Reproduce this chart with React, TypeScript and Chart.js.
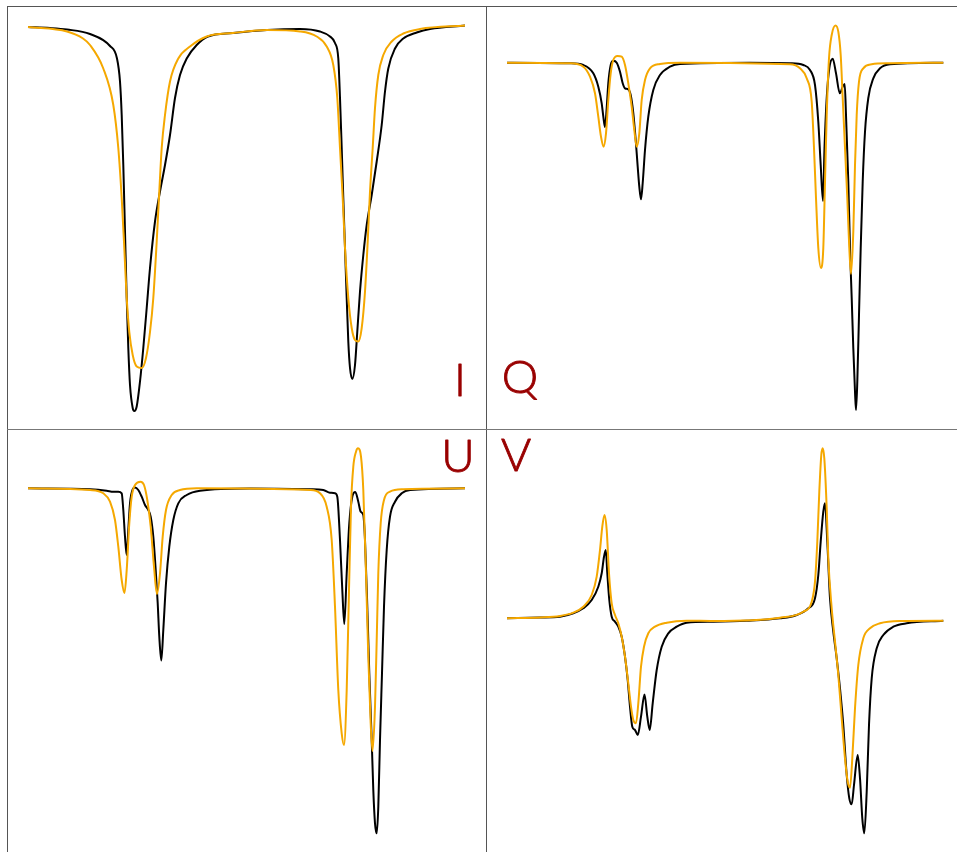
import { useEffect, useRef } from "react";
import { Chart, registerables } from "chart.js";

Chart.register(...registerables);

// Wavelength axis: spectral samples counted from the first sample of each profile.
// Stokes I is normalised to the continuum; Q, U and V are in percent of the continuum.

// ---- Stokes I ----
const iObsWl = [0, 22, 39, 62, 82, 89, 92, 93.7, 95.3, 97, 98.7, 100.3, 102, 104.7, 106.3, 108.7, 112, 115.3, 118.7, 122, 127, 132, 137, 142, 147, 152, 158.7, 168.7, 180, 205, 239, 272, 292, 302, 307, 310.3, 312, 313.7, 315.3, 317, 318.7, 320.3, 322, 324.3, 327, 329.3, 332, 335.3, 338.7, 343.7, 348.7, 353.7, 357, 360.3, 367, 375.3, 388.7, 402, 437];
const iObs = [1.0, 0.998, 0.995, 0.986, 0.962, 0.937, 0.891, 0.824, 0.724, 0.591, 0.458, 0.358, 0.284, 0.238, 0.232, 0.241, 0.291, 0.358, 0.438, 0.518, 0.611, 0.671, 0.724, 0.784, 0.858, 0.904, 0.937, 0.964, 0.981, 0.988, 0.994, 0.996, 0.991, 0.981, 0.968, 0.937, 0.858, 0.758, 0.658, 0.558, 0.458, 0.371, 0.318, 0.296, 0.324, 0.391, 0.471, 0.544, 0.604, 0.664, 0.731, 0.804, 0.871, 0.917, 0.957, 0.977, 0.989, 0.996, 1.003];
const iSynWl = [0, 39, 55, 62, 75.3, 85.3, 90.3, 93.7, 96.3, 98.7, 101.3, 104.7, 108.7, 113.7, 118, 122, 125.3, 128.7, 131.3, 133.7, 137, 142, 150.3, 162, 178.7, 205, 239, 272, 288.7, 298.7, 305.3, 309.3, 312, 314.7, 317, 320.3, 323.7, 327, 330.3, 333.7, 337, 339.7, 342, 344.7, 347, 350.3, 355.3, 363.7, 375.3, 392, 437];
const iSyn = [1.0, 0.991, 0.977, 0.964, 0.917, 0.844, 0.758, 0.658, 0.558, 0.458, 0.39, 0.344, 0.321, 0.318, 0.338, 0.39, 0.458, 0.571, 0.671, 0.758, 0.824, 0.891, 0.937, 0.961, 0.981, 0.988, 0.994, 0.991, 0.981, 0.961, 0.924, 0.858, 0.758, 0.658, 0.558, 0.458, 0.398, 0.374, 0.371, 0.398, 0.471, 0.571, 0.671, 0.758, 0.838, 0.904, 0.944, 0.971, 0.987, 0.996, 1.003];

// ---- Stokes Q ----
const qObsWl = [0, 63, 76.3, 86.3, 91.3, 94.7, 96.5, 98, 99.7, 101.3, 103.7, 106.3, 109.7, 113, 115.7, 118, 121.3, 123.7, 126.3, 128.7, 130.7, 132.3, 134, 135.7, 138, 141.3, 146.3, 153, 163, 173, 243, 283, 296.3, 303, 308, 311.3, 313.7, 316, 317.5, 319.7, 322.3, 325.7, 329, 332.8, 335.7, 337.7, 339, 341.3, 343, 344.7, 346.3, 348, 349, 350.3, 352, 353.7, 355.7, 358, 361.3, 366.3, 373, 383, 436.3];
const qObs = [0, -0.006, -0.023, -0.106, -0.24, -0.406, -0.553, -0.643, -0.453, -0.206, -0.023, 0.02, 0, -0.09, -0.206, -0.256, -0.266, -0.323, -0.503, -0.773, -1.04, -1.24, -1.366, -1.203, -0.873, -0.54, -0.273, -0.123, -0.04, -0.013, 0, -0.006, -0.023, -0.073, -0.223, -0.59, -1.023, -1.383, -0.853, -0.353, -0.056, 0.039, -0.106, -0.306, -0.24, -0.213, -0.523, -1.19, -1.853, -2.353, -2.853, -3.29, -3.473, -3.19, -2.523, -1.853, -1.19, -0.69, -0.353, -0.156, -0.056, -0.016, 0];
const qSynWl = [0, 63, 76.3, 83, 88, 91.3, 94, 96.5, 99, 101.3, 103.7, 106.3, 110.5, 114.7, 118, 121.3, 124.7, 127.3, 129.7, 132.3, 134.7, 138, 143, 153, 173, 283, 293, 299.7, 304.7, 307, 309, 311.3, 314, 316.3, 318, 319.7, 322, 324.7, 328.5, 331.3, 333.7, 335.7, 338, 340.3, 342.3, 344, 346.3, 348, 349.7, 352, 356.3, 364.7, 383, 436.3];
const qSyn = [0, -0.006, -0.04, -0.14, -0.306, -0.54, -0.74, -0.84, -0.706, -0.373, -0.106, 0.027, 0.067, 0.06, -0.023, -0.206, -0.44, -0.673, -0.84, -0.706, -0.373, -0.173, -0.056, -0.013, 0, -0.016, -0.056, -0.156, -0.39, -0.853, -1.353, -1.853, -2.053, -1.853, -1.19, -0.523, 0.044, 0.277, 0.372, 0.31, 0.077, -0.353, -0.853, -1.353, -1.853, -2.113, -1.69, -1.023, -0.523, -0.19, -0.056, -0.016, -0.006, 0];

// ---- Stokes U ----
const uObsWl = [0, 62, 78.7, 85.3, 90.3, 93.7, 95.3, 97, 98.7, 100.3, 102, 104.7, 107, 110.3, 113.7, 117, 120.3, 122.7, 125.3, 127.7, 129.7, 131.3, 133.3, 135.3, 138, 141.3, 145.3, 150.3, 158.7, 172, 222, 282, 295.3, 302, 307, 309.3, 312, 314.3, 316.3, 318.7, 321.3, 324.3, 327.3, 330.3, 332.7, 335.3, 337, 339.3, 341.3, 343.7, 345.3, 347, 348.7, 350.3, 352, 354, 356, 358.7, 362, 367, 373.7, 382, 437];
const uObs = [0, -0.01, -0.024, -0.034, -0.034, -0.05, -0.217, -0.484, -0.667, -0.417, -0.15, -0.01, 0.008, -0.017, -0.084, -0.167, -0.217, -0.284, -0.484, -0.817, -1.15, -1.484, -1.722, -1.417, -0.95, -0.584, -0.317, -0.15, -0.067, -0.024, -0.002, -0.01, -0.017, -0.044, -0.05, -0.084, -0.517, -1.017, -1.357, -0.85, -0.35, -0.084, -0.037, -0.134, -0.234, -0.267, -0.517, -1.184, -1.85, -2.517, -3.017, -3.35, -3.45, -3.184, -2.517, -1.85, -1.184, -0.617, -0.284, -0.134, -0.05, -0.017, 0];
const uSynWl = [0, 62, 75.3, 82, 87, 90.3, 93.7, 96.5, 98.7, 101.3, 103.7, 107, 112.5, 116, 119.3, 122.7, 126, 129, 132, 134.7, 138, 143.7, 152, 168.7, 282, 292, 298.7, 303.7, 307, 310.3, 313.7, 316, 318.7, 321, 323, 325.3, 328, 330, 333, 335.3, 338, 340.3, 342.7, 344.5, 347, 348.7, 350.3, 352.7, 356, 362, 375.3, 437];
const uSyn = [0, -0.017, -0.05, -0.134, -0.317, -0.584, -0.917, -1.047, -0.817, -0.35, -0.084, 0.033, 0.066, 0.033, -0.117, -0.384, -0.784, -1.057, -0.85, -0.484, -0.217, -0.067, -0.017, 0, -0.017, -0.05, -0.184, -0.517, -1.184, -2.017, -2.45, -2.567, -2.017, -1.017, -0.184, 0.216, 0.366, 0.4, 0.316, -0.017, -0.85, -1.684, -2.35, -2.627, -2.184, -1.517, -0.85, -0.35, -0.117, -0.034, -0.01, 0];

// ---- Stokes V ----
const vObsWl = [0, 33, 53, 66.3, 76.3, 84.7, 91.3, 94.7, 97, 98.8, 100.3, 102.3, 104.7, 108, 111.3, 114.7, 118, 120.7, 123, 125.3, 128, 130.8, 134, 137.5, 140.3, 142.7, 145.7, 149.7, 154.7, 161.3, 169.7, 179.7, 206.3, 239.7, 273, 289.7, 301.3, 308, 311.3, 313.7, 316.3, 318, 320.3, 323, 326.3, 329.7, 333, 336.3, 339.7, 342.3, 344.7, 347, 350.7, 353, 355.3, 357.3, 359.7, 362, 364.7, 369.7, 376.3, 386.3, 399.7, 436.3];
const vObs = [0.01, 0.018, 0.026, 0.06, 0.11, 0.193, 0.326, 0.46, 0.626, 0.693, 0.46, 0.193, 0.026, -0.024, -0.074, -0.174, -0.374, -0.607, -0.874, -1.074, -1.107, -1.157, -0.974, -0.752, -0.974, -1.107, -0.84, -0.507, -0.274, -0.14, -0.074, -0.034, -0.024, -0.014, 0.01, 0.043, 0.11, 0.21, 0.443, 0.776, 1.076, 1.16, 0.776, 0.21, -0.124, -0.39, -0.69, -1.057, -1.557, -1.79, -1.85, -1.657, -1.357, -1.59, -1.99, -2.14, -1.724, -1.057, -0.59, -0.29, -0.157, -0.074, -0.04, -0.014];
const vSynWl = [0, 33, 53, 66.3, 76.3, 84.7, 89.7, 93, 95.3, 97.5, 99.7, 102, 104.7, 108, 111.3, 114.7, 118, 121.3, 124, 126.3, 129, 131.3, 134, 137, 141.3, 148, 159.7, 179.7, 206.3, 273, 296.3, 304.7, 308, 310.3, 312.3, 314.3, 315.7, 317.3, 319.7, 321.3, 324.7, 328, 331.3, 334.7, 338, 340.7, 343, 345.3, 348, 351.3, 356.3, 363, 373, 393, 436.3];
const vSyn = [0.01, 0.018, 0.033, 0.066, 0.126, 0.243, 0.426, 0.693, 0.926, 1.043, 0.893, 0.46, 0.16, 0.043, -0.04, -0.174, -0.374, -0.64, -0.874, -1.007, -1.04, -0.84, -0.474, -0.274, -0.14, -0.074, -0.034, -0.014, -0.017, 0.016, 0.076, 0.176, 0.376, 0.776, 1.276, 1.643, 1.71, 1.61, 1.11, 0.61, 0.11, -0.224, -0.557, -0.99, -1.39, -1.624, -1.684, -1.39, -0.89, -0.457, -0.19, -0.09, -0.04, -0.017, -0.014];

const OBS_COLOR = "#000000";
const SYN_COLOR = "#F5A800";
const LABEL_COLOR = "#990000";

type PanelProps = {
  label: string;
  obsWl: number[];
  obs: number[];
  synWl: number[];
  syn: number[];
  yMin: number;
  yMax: number;
  labelX: number;
  labelY: number;
  left: number;
  top: number;
};

const PANEL_W = 479;
const PANEL_H = 423;

function StokesPanel(p: PanelProps) {
  const ref = useRef<HTMLCanvasElement>(null);

  useEffect(() => {
    const canvas = ref.current;
    if (!canvas) return;
    // Stokes parameter name, drawn in a light face with a thin outline for a medium stroke
    const labelPlugin = {
      id: "stokesLabel",
      afterDraw(chart: Chart) {
        const ctx = chart.ctx;
        ctx.save();
        ctx.font = "300 46px Lato";
        ctx.fillStyle = LABEL_COLOR;
        ctx.strokeStyle = LABEL_COLOR;
        ctx.lineWidth = 0.9;
        ctx.lineJoin = "round";
        ctx.textAlign = "center";
        ctx.textBaseline = "alphabetic";
        ctx.fillText(p.label, p.labelX, p.labelY);
        ctx.strokeText(p.label, p.labelX, p.labelY);
        ctx.restore();
      },
    };
    const toPoints = (xs: number[], ys: number[]) => xs.map((x, i) => ({ x, y: ys[i] }));
    const chart = new Chart(canvas, {
      type: "line",
      data: {
        datasets: [
          {
            label: "synthetic",
            data: toPoints(p.synWl, p.syn),
            borderColor: SYN_COLOR,
            borderWidth: 2,
            pointRadius: 0,
            cubicInterpolationMode: "monotone",
            fill: false,
          },
          {
            label: "observed",
            data: toPoints(p.obsWl, p.obs),
            borderColor: OBS_COLOR,
            borderWidth: 2,
            pointRadius: 0,
            cubicInterpolationMode: "monotone",
            fill: false,
          },
        ],
      },
      options: {
        animation: false,
        responsive: false,
        events: [],
        layout: { padding: 0 },
        plugins: { legend: { display: false }, tooltip: { enabled: false } },
        scales: {
          x: { type: "linear", display: false, min: -21, max: 458 },
          y: { type: "linear", display: false, min: p.yMin, max: p.yMax },
        },
      },
      plugins: [labelPlugin],
    });
    return () => chart.destroy();
  }, []);

  return (
    <div style={{ position: "absolute", left: p.left, top: p.top, width: PANEL_W, height: PANEL_H }}>
      <canvas ref={ref} width={PANEL_W} height={PANEL_H} style={{ display: "block" }} />
    </div>
  );
}

const LINE = "#555555";

export default function App() {
  return (
    <div style={{ position: "fixed", left: 0, top: 0, width: 957, height: 852, background: "#fff", overflow: "hidden" }}>
      <StokesPanel label="I" obsWl={iObsWl} obs={iObs} synWl={iSynWl} syn={iSyn} yMin={0.196} yMax={1.042} labelX={453} labelY={390} left={7} top={6} />
      <StokesPanel label="Q" obsWl={qObsWl} obs={qObs} synWl={qSynWl} syn={qSyn} yMin={-3.663} yMax={0.567} labelX={34} labelY={387} left={486} top={6} />
      <StokesPanel label="U" obsWl={uObsWl} obs={uObs} synWl={uSynWl} syn={uSyn} yMin={-3.637} yMax={0.593} labelX={451} labelY={43} left={7} top={429} />
      <StokesPanel label="V" obsWl={vObsWl} obs={vObs} synWl={vSynWl} syn={vSyn} yMin={-2.327} yMax={1.903} labelX={30} labelY={42} left={486} top={429} />
      <div style={{ position: "absolute", left: 7, top: 6, width: 960, height: 1, background: LINE }} />
      <div style={{ position: "absolute", left: 7, top: 6, width: 1, height: 860, background: LINE }} />
      <div style={{ position: "absolute", left: 486, top: 6, width: 1, height: 860, background: LINE }} />
      <div style={{ position: "absolute", left: 7, top: 429, width: 960, height: 1, background: "#777777" }} />
    </div>
  );
}
